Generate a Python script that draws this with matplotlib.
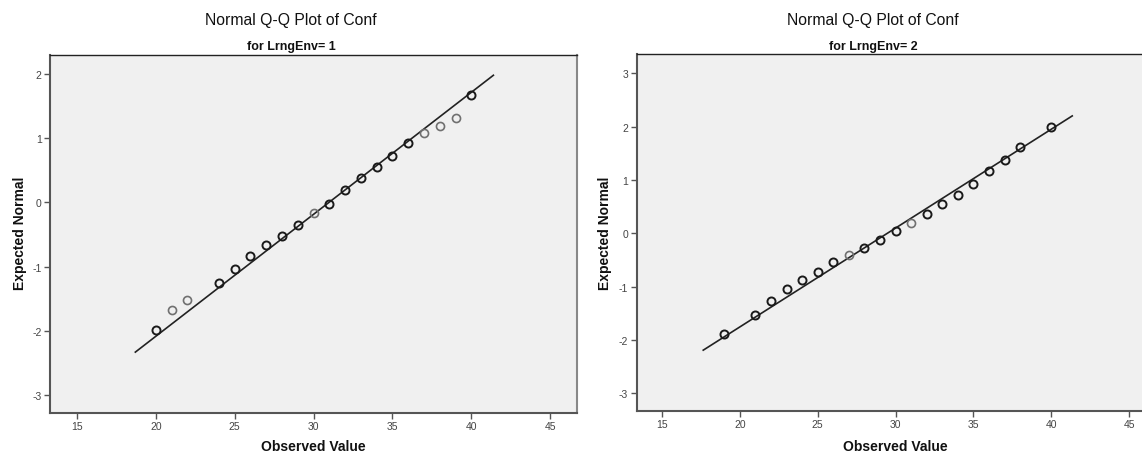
import matplotlib
matplotlib.use("Agg")
import matplotlib.pyplot as plt

# data
env1_obs = [20, 21, 22, 24, 25, 26, 27, 28, 29, 30, 31, 32, 33, 34, 35, 36, 37, 38, 39, 40]
env1_exp = [-1.98, -1.67, -1.52, -1.26, -1.03, -0.84, -0.66, -0.53, -0.35, -0.17,
            -0.02, 0.20, 0.38, 0.55, 0.73, 0.92, 1.08, 1.19, 1.31, 1.67]
env1_light = [21, 22, 30, 37, 38, 39]
env1_line_x = [18.7, 41.4]
env1_line_y = [-2.33, 1.98]

env2_obs = [19, 21, 22, 23, 24, 25, 26, 27, 28, 29, 30, 31, 32, 33, 34, 35, 36, 37, 38, 40]
env2_exp = [-1.88, -1.53, -1.27, -1.05, -0.88, -0.72, -0.53, -0.40, -0.27, -0.12,
            0.05, 0.20, 0.36, 0.55, 0.71, 0.93, 1.16, 1.38, 1.61, 1.99]
env2_light = [27, 31]
env2_line_x = [17.65, 41.35]
env2_line_y = [-2.19, 2.2]

x_ticks = [15, 20, 25, 30, 35, 40, 45]

plt.rcParams["font.family"] = ["Liberation Sans", "DejaVu Sans"]
plt.rcParams["axes.unicode_minus"] = False

W, H = 1142, 456
fig = plt.figure(figsize=(W / 100, H / 100), dpi=100)


def make_panel(rect, obs, exp, light, lx, ly, xlim, ylim, yticks, hide_right=False):
    ax = fig.add_axes(rect)
    ax.set_facecolor("#f0f0f0")
    ax.plot(lx, ly, color="#222222", lw=1.2, zorder=2)
    dark_x = [o for o in obs if o not in light]
    dark_y = [e for o, e in zip(obs, exp) if o not in light]
    lt_x = [o for o in obs if o in light]
    lt_y = [e for o, e in zip(obs, exp) if o in light]
    ax.plot(dark_x, dark_y, "o", ms=5.8, mfc="none", mec="#1a1a1a", mew=1.4, zorder=3)
    ax.plot(lt_x, lt_y, "o", ms=5.8, mfc="none", mec="#707070", mew=1.2, zorder=3)
    ax.set_xlim(*xlim)
    ax.set_ylim(*ylim)
    ax.set_xticks(x_ticks)
    ax.set_yticks(yticks)
    ax.tick_params(direction="out", length=4, width=1, color="#555555",
                   labelsize=7.5, labelcolor="#444444", pad=2)
    ax.spines["left"].set_color("#555555")
    ax.spines["left"].set_linewidth(1.5)
    ax.spines["bottom"].set_color("#555555")
    ax.spines["bottom"].set_linewidth(1.5)
    ax.spines["top"].set_color("#222222")
    ax.spines["top"].set_linewidth(1.0)
    ax.spines["right"].set_color("#888888")
    ax.spines["right"].set_linewidth(1.5)
    if hide_right:
        ax.spines["right"].set_visible(False)
    return ax


ax1 = make_panel([50 / W, 1 - 413.5 / H, 527 / W, 357.8 / H],
                 env1_obs, env1_exp, env1_light, env1_line_x, env1_line_y,
                 (13.29, 46.7), (-3.27, 2.30), [-3, -2, -1, 0, 1, 2])
ax2 = make_panel([636.6 / W, 1 - 412 / H, (W - 636.6) / W, 357 / H],
                 env2_obs, env2_exp, env2_light, env2_line_x, env2_line_y,
                 (13.37, 45.83), (-3.33, 3.36), [-3, -2, -1, 0, 1, 2, 3], hide_right=True)

# titles and labels
for cx, sub in [(291, "for LrngEnv= 1"), (873, "for LrngEnv= 2")]:
    fig.text(cx / W, 1 - 20 / H, "Normal Q-Q Plot of Conf", ha="center", va="center",
             fontsize=11.3, color="#111111")
    fig.text(cx / W, 1 - 47 / H, sub, ha="center", va="center",
             fontsize=9, fontweight="bold", color="#111111")

for cx in [313, 895]:
    fig.text(cx / W, 1 - 447 / H, "Observed Value", ha="center", va="center",
             fontsize=10, fontweight="bold", color="#111111")

for cx in [20, 605]:
    fig.text(cx / W, 1 - 233 / H, "Expected Normal", ha="center", va="center",
             rotation=90, fontsize=10, fontweight="bold", color="#111111")

fig.savefig("out.png", dpi=100)
